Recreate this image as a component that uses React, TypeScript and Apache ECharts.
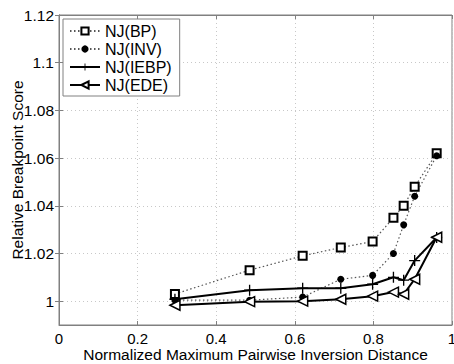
import React, { useEffect, useRef } from "react";
import * as echarts from "echarts";

const xValues = [0.295, 0.485, 0.62, 0.717, 0.798, 0.851, 0.877, 0.905, 0.961];
const bpValues = [1.003, 1.013, 1.019, 1.0225, 1.025, 1.035, 1.04, 1.048, 1.062];
const invValues = [1.0004, 1.0004, 1.0017, 1.0092, 1.0108, 1.02, 1.032, 1.044, 1.061];
const iebpValues = [1.0008, 1.0046, 1.0054, 1.0054, 1.0071, 1.01, 1.0088, 1.017, 1.0267];
const edeValues = [0.9983, 0.9998, 1.0, 1.0008, 1.0021, 1.0038, 1.0029, 1.0092, 1.0268];
const seriesNames = ["NJ(BP)", "NJ(INV)", "NJ(IEBP)", "NJ(EDE)"];
const xTicks = [0, 0.2, 0.4, 0.6, 0.8, 1];
const yTicks = [1, 1.02, 1.04, 1.06, 1.08, 1.1, 1.12];

const FONT = "Liberation Sans, Arial, sans-serif";
const plusPath = "path://M-0.12,-1H0.12V-0.12H1V0.12H0.12V1H-0.12V0.12H-1V-0.12H-0.12Z";

const pairs = (ys: number[]) => xValues.map((x, i) => [x, ys[i]]);

export default function App() {
  const ref = useRef<HTMLDivElement>(null);
  useEffect(() => {
    if (!ref.current) return;
    const chart = echarts.init(ref.current, undefined, { renderer: "svg" });
    const axisLine = { show: true, lineStyle: { color: "#808080", width: 1 } };
    const split = { show: true, lineStyle: { color: "#c8c8c8", type: [1, 3] as any, width: 1 } };
    chart.setOption({
      animation: false,
      backgroundColor: "#fff",
      textStyle: { fontFamily: FONT },
      grid: {
        left: 59, right: 2, top: 15, bottom: 39,
        outerBoundsMode: "none",
        containLabel: false,
        show: true, borderColor: "#808080", borderWidth: 1, backgroundColor: "transparent",
      },
      legend: {
        orient: "vertical",
        left: 63,
        top: 19,
        padding: [4, 8, 3, 6],
        itemGap: 2,
        itemWidth: 30,
        itemHeight: 9,
        borderColor: "#808080",
        borderWidth: 1,
        backgroundColor: "#fff",
        textStyle: { fontSize: 16, color: "#000", fontFamily: FONT, lineHeight: 16 },
        data: seriesNames,
      },
      xAxis: [
        {
          type: "value",
          min: 0,
          max: 1,
          interval: 0.2,
          name: "Normalized Maximum Pairwise Inversion Distance",
          nameLocation: "middle",
          nameGap: 22,
          nameMoveOverlap: false,
          nameTextStyle: { fontSize: 15.5, color: "#000", fontFamily: FONT, verticalAlign: "top", lineHeight: 15 },
          axisLine,
          axisTick: { show: true, inside: true, length: 4, lineStyle: { color: "#808080" } },
          axisLabel: { fontSize: 15, color: "#000", margin: 6, fontFamily: FONT, lineHeight: 14, customValues: xTicks },
          splitLine: split,
        },
        {
          type: "value",
          position: "top",
          min: 0,
          max: 1,
          interval: 0.2,
          axisLine,
          axisTick: { show: true, inside: true, length: 4, lineStyle: { color: "#808080" } },
          axisLabel: { show: false },
          splitLine: { show: false },
        },
      ],
      yAxis: [
        {
          type: "value",
          min: 0.99,
          max: 1.12,
          interval: 0.01,
          name: "Relative Breakpoint Score",
          nameLocation: "middle",
          nameGap: 34,
          nameMoveOverlap: false,
          nameTextStyle: { fontSize: 15.5, color: "#000", fontFamily: FONT },
          axisLine,
          axisTick: { show: true, inside: true, length: 4, lineStyle: { color: "#808080" }, customValues: yTicks },
          axisLabel: { fontSize: 15.5, color: "#000", margin: 5, fontFamily: FONT, customValues: yTicks },
          splitLine: split,
        },
        {
          type: "value",
          position: "right",
          min: 0.99,
          max: 1.12,
          interval: 0.01,
          axisLine,
          axisTick: { show: true, inside: true, length: 4, lineStyle: { color: "#808080" }, customValues: yTicks },
          axisLabel: { show: false, customValues: yTicks },
          splitLine: { show: false },
        },
      ],
      series: [
        {
          name: seriesNames[0],
          type: "line",
          data: pairs(bpValues),
          symbol: "rect",
          symbolSize: 8,
          color: "#000",
          lineStyle: { color: "#555", width: 1.2, type: [1.5, 2.5] },
          itemStyle: { color: "#fff", borderColor: "#000", borderWidth: 2 },
        },
        {
          name: seriesNames[1],
          type: "line",
          data: pairs(invValues),
          symbol: "circle",
          symbolSize: 7,
          color: "#000",
          lineStyle: { color: "#555", width: 1.2, type: [1.5, 2.5] },
          itemStyle: { color: "#000", borderColor: "#000", borderWidth: 0 },
        },
        {
          name: seriesNames[2],
          type: "line",
          data: pairs(iebpValues),
          symbol: plusPath,
          symbolSize: 11,
          color: "#000",
          lineStyle: { color: "#000", width: 2 },
          itemStyle: { color: "#000", borderWidth: 0 },
        },
        {
          name: seriesNames[3],
          type: "line",
          data: pairs(edeValues),
          symbol: "triangle",
          symbolRotate: 90,
          symbolSize: 10,
          color: "#000",
          lineStyle: { color: "#000", width: 2 },
          itemStyle: { color: "#fff", borderColor: "#000", borderWidth: 1.5 },
        },
      ],
    });
    return () => chart.dispose();
  }, []);
  return <div ref={ref} style={{ width: 454, height: 364, position: "absolute", left: 0, top: 0 }} />;
}
